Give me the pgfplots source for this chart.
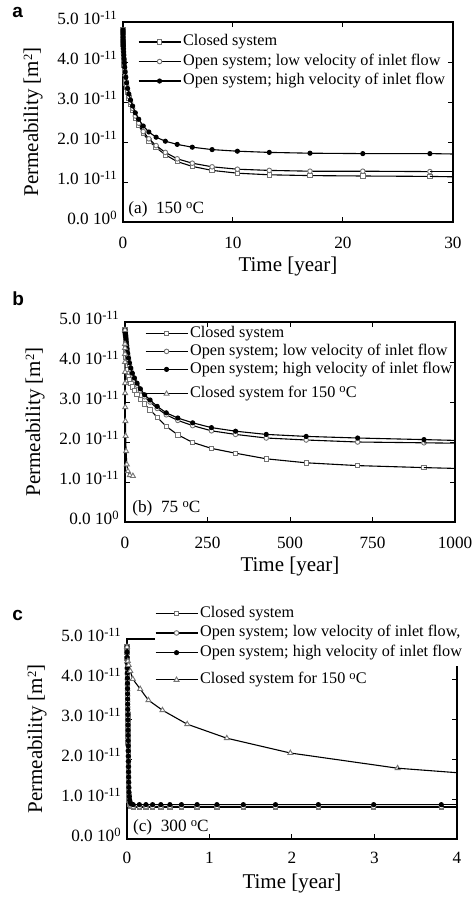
\documentclass[border=0pt]{standalone}
\usepackage{fontspec}
\setmainfont{Liberation Serif}
\newfontfamily\panelfont{Liberation Sans}
\usepackage{pgfplots}
\usepackage{pgfplotstable}
\pgfplotsset{compat=1.18}

\newcommand{\sups}[1]{\raisebox{0.62ex}{\fontsize{6.3}{7}\selectfont #1}}

% panel (a), 150 C: time [year], permeability in 1e-11 m^2
\pgfplotstableread{
t      cl    lo    hi
0      4.80  4.80  4.80
0.003  4.70  4.73  4.75
0.006  4.60  4.63  4.70
0.010  4.45  4.48  4.62
0.016  4.38  4.41  4.55
0.021  4.35  4.38  4.50
0.027  4.30  4.33  4.45
0.035  4.24  4.27  4.40
0.045  4.17  4.20  4.33
0.058  4.08  4.11  4.25
0.074  4.00  4.03  4.17
0.095  3.93  3.96  4.08
0.121  3.85  3.88  3.98
0.155  3.76  3.79  3.87
0.199  3.62  3.66  3.75
0.255  3.48  3.52  3.62
0.326  3.37  3.41  3.48
0.417  3.24  3.28  3.34
0.534  3.10  3.14  3.20
0.684  2.95  2.99  3.05
0.875  2.80  2.84  2.90
1.12   2.60  2.65  2.73
1.43   2.42  2.47  2.57
1.84   2.21  2.26  2.40
2.35   2.03  2.08  2.25
3.01   1.86  1.91  2.12
3.85   1.68  1.74  2.02
4.93   1.51  1.58  1.94
6.30   1.39  1.47  1.87
8.10   1.29  1.38  1.81
10.4   1.22  1.32  1.77
13.3   1.18  1.29  1.74
17.0   1.16  1.27  1.72
21.8   1.15  1.27  1.71
27.9   1.14  1.26  1.71
30     1.13  1.26  1.70
}\tabA

% closed system for 150 C, as drawn in (b) and (c)
\pgfplotstableread{
t      k
0      4.80
0.01   4.45
0.02   4.35
0.04   4.20
0.07   4.00
0.16   3.75
0.26   3.47
0.43   3.22
0.73   2.87
1.21   2.52
1.98   2.15
3.28   1.77
5.4    1.44
8.9    1.27
14.6   1.17
24.0   1.15
}\tabT

% panel (b), 75 C
\pgfplotstableread{
t      cl    lo    hi
0      4.80  4.80  4.80
0.7    4.60  4.74  4.75
0.9    4.53  4.73  4.74
1.2    4.45  4.70  4.72
1.5    4.38  4.67  4.69
1.9    4.30  4.64  4.66
2.4    4.22  4.59  4.62
3.1    4.12  4.54  4.57
4.0    4.02  4.46  4.50
5.1    3.92  4.38  4.42
6.5    3.82  4.28  4.33
8.3    3.72  4.17  4.22
10.7   3.63  4.05  4.10
13.6   3.55  3.93  3.98
17.5   3.47  3.80  3.85
22.3   3.38  3.67  3.72
28.6   3.29  3.55  3.60
36.6   3.19  3.42  3.47
46.5   3.07  3.28  3.33
59.6   2.95  3.13  3.18
76     2.80  3.00  3.05
97.6   2.62  2.84  2.89
125    2.39  2.68  2.73
160    2.18  2.54  2.60
205    1.99  2.41  2.48
262    1.84  2.28  2.36
335    1.72  2.19  2.27
428    1.58  2.10  2.19
549    1.48  2.05  2.14
705    1.41  2.00  2.10
906    1.36  1.98  2.06
1000   1.34  1.97  2.04
}\tabB

% panel (c), 300 C
\pgfplotstableread{
t       cl    lo    hi
0       4.80  4.80  4.80
0.0008  4.66  4.67  4.67
0.0016  4.52  4.53  4.54
0.0024  4.38  4.40  4.41
0.0032  4.24  4.26  4.28
0.0040  4.10  4.12  4.15
0.0048  3.96  3.99  4.02
0.0056  3.82  3.85  3.89
0.0064  3.68  3.71  3.76
0.0072  3.54  3.58  3.63
0.0080  3.40  3.44  3.50
0.0088  3.26  3.30  3.37
0.0096  3.12  3.17  3.24
0.0104  2.98  3.03  3.11
0.0112  2.84  2.89  2.98
0.0120  2.70  2.76  2.85
0.0128  2.56  2.62  2.72
0.0136  2.42  2.48  2.59
0.0144  2.28  2.35  2.46
0.0152  2.14  2.21  2.33
0.0160  2.00  2.07  2.20
0.0168  1.86  1.94  2.07
0.0176  1.72  1.80  1.94
0.0184  1.58  1.66  1.81
0.0192  1.44  1.53  1.68
0.0200  1.31  1.40  1.55
0.0210  1.18  1.27  1.42
0.0225  1.07  1.15  1.29
0.0245  0.98  1.05  1.17
0.028   0.91  0.96  1.06
0.033   0.86  0.90  0.97
0.040   0.83  0.86  0.91
0.050   0.81  0.83  0.88
0.075   0.80  0.81  0.86
0.15    0.79  0.81  0.86
0.23    0.79  0.81  0.86
0.31    0.79  0.81  0.86
0.41    0.79  0.81  0.86
0.52    0.79  0.81  0.86
0.66    0.79  0.81  0.86
0.85    0.79  0.81  0.86
1.09    0.79  0.81  0.86
1.41    0.79  0.81  0.86
1.80    0.79  0.81  0.86
2.32    0.79  0.81  0.86
2.99    0.79  0.81  0.86
3.81    0.79  0.81  0.86
4.0     0.79  0.81  0.86
}\tabC

\pgfplotsset{
  perm/.style={
    scale only axis, width=165pt, height=100pt, anchor=south west,
    ymin=0, ymax=5, ytick={0,1,2,3,4,5},
    yticklabels={0.0 10\sups{0},1.0 10\sups{-11},2.0 10\sups{-11},3.0 10\sups{-11},4.0 10\sups{-11},5.0 10\sups{-11}},
    tick style={black, line width=0.5pt}, major tick length=2.5pt,
    axis line style={line width=0.6pt},
    yticklabel style={font=\fontsize{8.6}{10}\selectfont, anchor=base east, inner sep=0pt, xshift=-3pt, yshift=-1.1pt},
    xticklabel style={font=\fontsize{8.6}{10}\selectfont, anchor=north, inner sep=0pt, yshift=-7.3pt},
    xlabel={Time [year]}, ylabel={Permeability [m\sups{2}]},
    xlabel style={font=\fontsize{10.5}{12}\selectfont, inner sep=0pt, anchor=north, at={(axis description cs:0.5,-0.173)}},
    ylabel style={font=\fontsize{10.5}{12}\selectfont, inner sep=0pt, anchor=base, at={(axis description cs:-0.257,0.5)}},
    legend cell align=left,
    legend style={draw=none, fill=none, inner sep=0pt, outer sep=0pt, anchor=north west,
      font=\fontsize{8.1}{9}\selectfont, column sep=1pt, row sep=0pt},
    legend image code/.code={\draw[mark repeat=2,mark phase=2,#1] plot coordinates {(0pt,0pt) (10.5pt,0pt) (21pt,0pt)};},
    clip mode=individual,
  },
  clsty/.style={black, line width=0.55pt, mark=square*, mark size=1.1pt, mark options={draw=black!55, fill=white, line width=0.45pt}},
  losty/.style={black, line width=0.55pt, mark=*, mark size=1.15pt, mark options={draw=black!55, fill=white, line width=0.45pt}},
  histy/.style={black, line width=0.55pt, mark=*, mark size=1.0pt, mark options={draw=black, fill=black}},
  trsty/.style={black, line width=0.55pt, mark=triangle*, mark size=1.45pt, mark options={draw=black!55, fill=white, line width=0.45pt}},
}

\begin{document}
\begin{tikzpicture}
\path[use as bounding box] (0,0) rectangle (237.5pt,-449.5pt);

\node[anchor=base west, inner sep=0pt, font=\panelfont\bfseries\fontsize{9.5}{11}\selectfont] at (6pt,-9pt) {a};
\node[anchor=base west, inner sep=0pt, font=\panelfont\bfseries\fontsize{9.5}{11}\selectfont] at (6pt,-152.5pt) {b};
\node[anchor=base west, inner sep=0pt, font=\panelfont\bfseries\fontsize{9.5}{11}\selectfont] at (6pt,-310pt) {c};

% (a) 150 C
\begin{axis}[perm, at={(61.5pt,-111pt)},
  xmin=0, xmax=30, xtick={0,10,20,30}, xticklabels={0,10,20,30},
  legend style={at={(axis description cs:0.0455,0.9488)},
    nodes={inner sep=0pt, text height=6.78pt, text depth=2.98pt}}]
\addplot[clsty] table[x=t,y=cl,restrict x to domain=0:29]{\tabA};
\addlegendentry{Closed system}
\addplot[clsty,no marks,forget plot] table[x=t,y=cl,restrict x to domain=27:31]{\tabA};
\addplot[losty] table[x=t,y=lo,restrict x to domain=0:29]{\tabA};
\addlegendentry{Open system; low velocity of inlet flow}
\addplot[losty,no marks,forget plot] table[x=t,y=lo,restrict x to domain=27:31]{\tabA};
\addplot[histy] table[x=t,y=hi,restrict x to domain=0:29]{\tabA};
\addlegendentry{Open system; high velocity of inlet flow}
\addplot[histy,no marks,forget plot] table[x=t,y=hi,restrict x to domain=27:31]{\tabA};
\node[anchor=base west, inner sep=0pt, font=\fontsize{8.6}{10}\selectfont] at (axis description cs:0.0152,0.045) {(a)~~150 \sups{o}C};
\end{axis}

% (b) 75 C
\begin{axis}[perm, at={(62.5pt,-261pt)},
  xmin=0, xmax=1000, xtick={0,250,500,750,1000}, xticklabels={0,250,500,750,1000},
  legend style={at={(axis description cs:0.0606,0.988)},
    nodes={inner sep=0pt, text height=6.4pt, text depth=2.6pt}}]
\addplot[clsty] table[x=t,y=cl,restrict x to domain=0:950]{\tabB};
\addlegendentry{Closed system}
\addplot[clsty,no marks,forget plot] table[x=t,y=cl,restrict x to domain=900:1001]{\tabB};
\addplot[losty] table[x=t,y=lo,restrict x to domain=0:950]{\tabB};
\addlegendentry{Open system; low velocity of inlet flow}
\addplot[losty,no marks,forget plot] table[x=t,y=lo,restrict x to domain=900:1001]{\tabB};
\addplot[histy] table[x=t,y=hi,restrict x to domain=0:950]{\tabB};
\addlegendentry{Open system; high velocity of inlet flow}
\addplot[histy,no marks,forget plot] table[x=t,y=hi,restrict x to domain=900:1001]{\tabB};
\addlegendimage{empty legend}
\addlegendentry[text height=3.2pt, text depth=0pt]{}
\addplot[trsty] table[x=t,y=k]{\tabT};
\addlegendentry{Closed system for 150 \sups{o}C}
\node[anchor=base west, inner sep=0pt, font=\fontsize{8.6}{10}\selectfont] at (axis description cs:0.0211,0.0465) {(b)~~75 \sups{o}C};
\end{axis}

% (c) 300 C
\begin{axis}[perm, at={(63.5pt,-419.5pt)},
  xmin=0, xmax=4, xtick={0,1,2,3,4}, xticklabels={0,1,2,3,4},
  xticklabel style={yshift=1pt},
  legend style={at={(axis description cs:0.0848,1.1778)},
    nodes={inner sep=0pt, text height=6.82pt, text depth=3.02pt}}]
% white patch behind the legend, hiding the top of the frame
\fill[white] (axis cs:0.34,6.1) rectangle (axis cs:4.08,4.33);
\addplot[clsty] table[x=t,y=cl,restrict x to domain=0:3.9]{\tabC};
\addlegendentry{Closed system}
\addplot[clsty,no marks,forget plot] table[x=t,y=cl,restrict x to domain=3.8:4.1]{\tabC};
\addplot[losty] table[x=t,y=lo,restrict x to domain=0:3.9]{\tabC};
\addlegendentry{Open system; low velocity of inlet flow,}
\addplot[losty,no marks,forget plot] table[x=t,y=lo,restrict x to domain=3.8:4.1]{\tabC};
\addplot[histy] table[x=t,y=hi,restrict x to domain=0:3.9]{\tabC};
\addlegendentry{Open system; high velocity of inlet flow}
\addplot[histy,no marks,forget plot] table[x=t,y=hi,restrict x to domain=3.8:4.1]{\tabC};
\addlegendimage{empty legend}
\addlegendentry[text height=3.8pt, text depth=0pt]{}
\addplot[trsty] table[x=t,y=k,restrict x to domain=0:3.5]{\tabT};
\addlegendentry{Closed system for 150 \sups{o}C}
\addplot[trsty,no marks,forget plot] table[x=t,y=k,restrict x to domain=3:6]{\tabT};
\node[anchor=base west, inner sep=0pt, font=\fontsize{8.6}{10}\selectfont] at (axis description cs:0.0173,0.0365) {(c)~~300 \sups{o}C};
\end{axis}
\end{tikzpicture}
\end{document}
